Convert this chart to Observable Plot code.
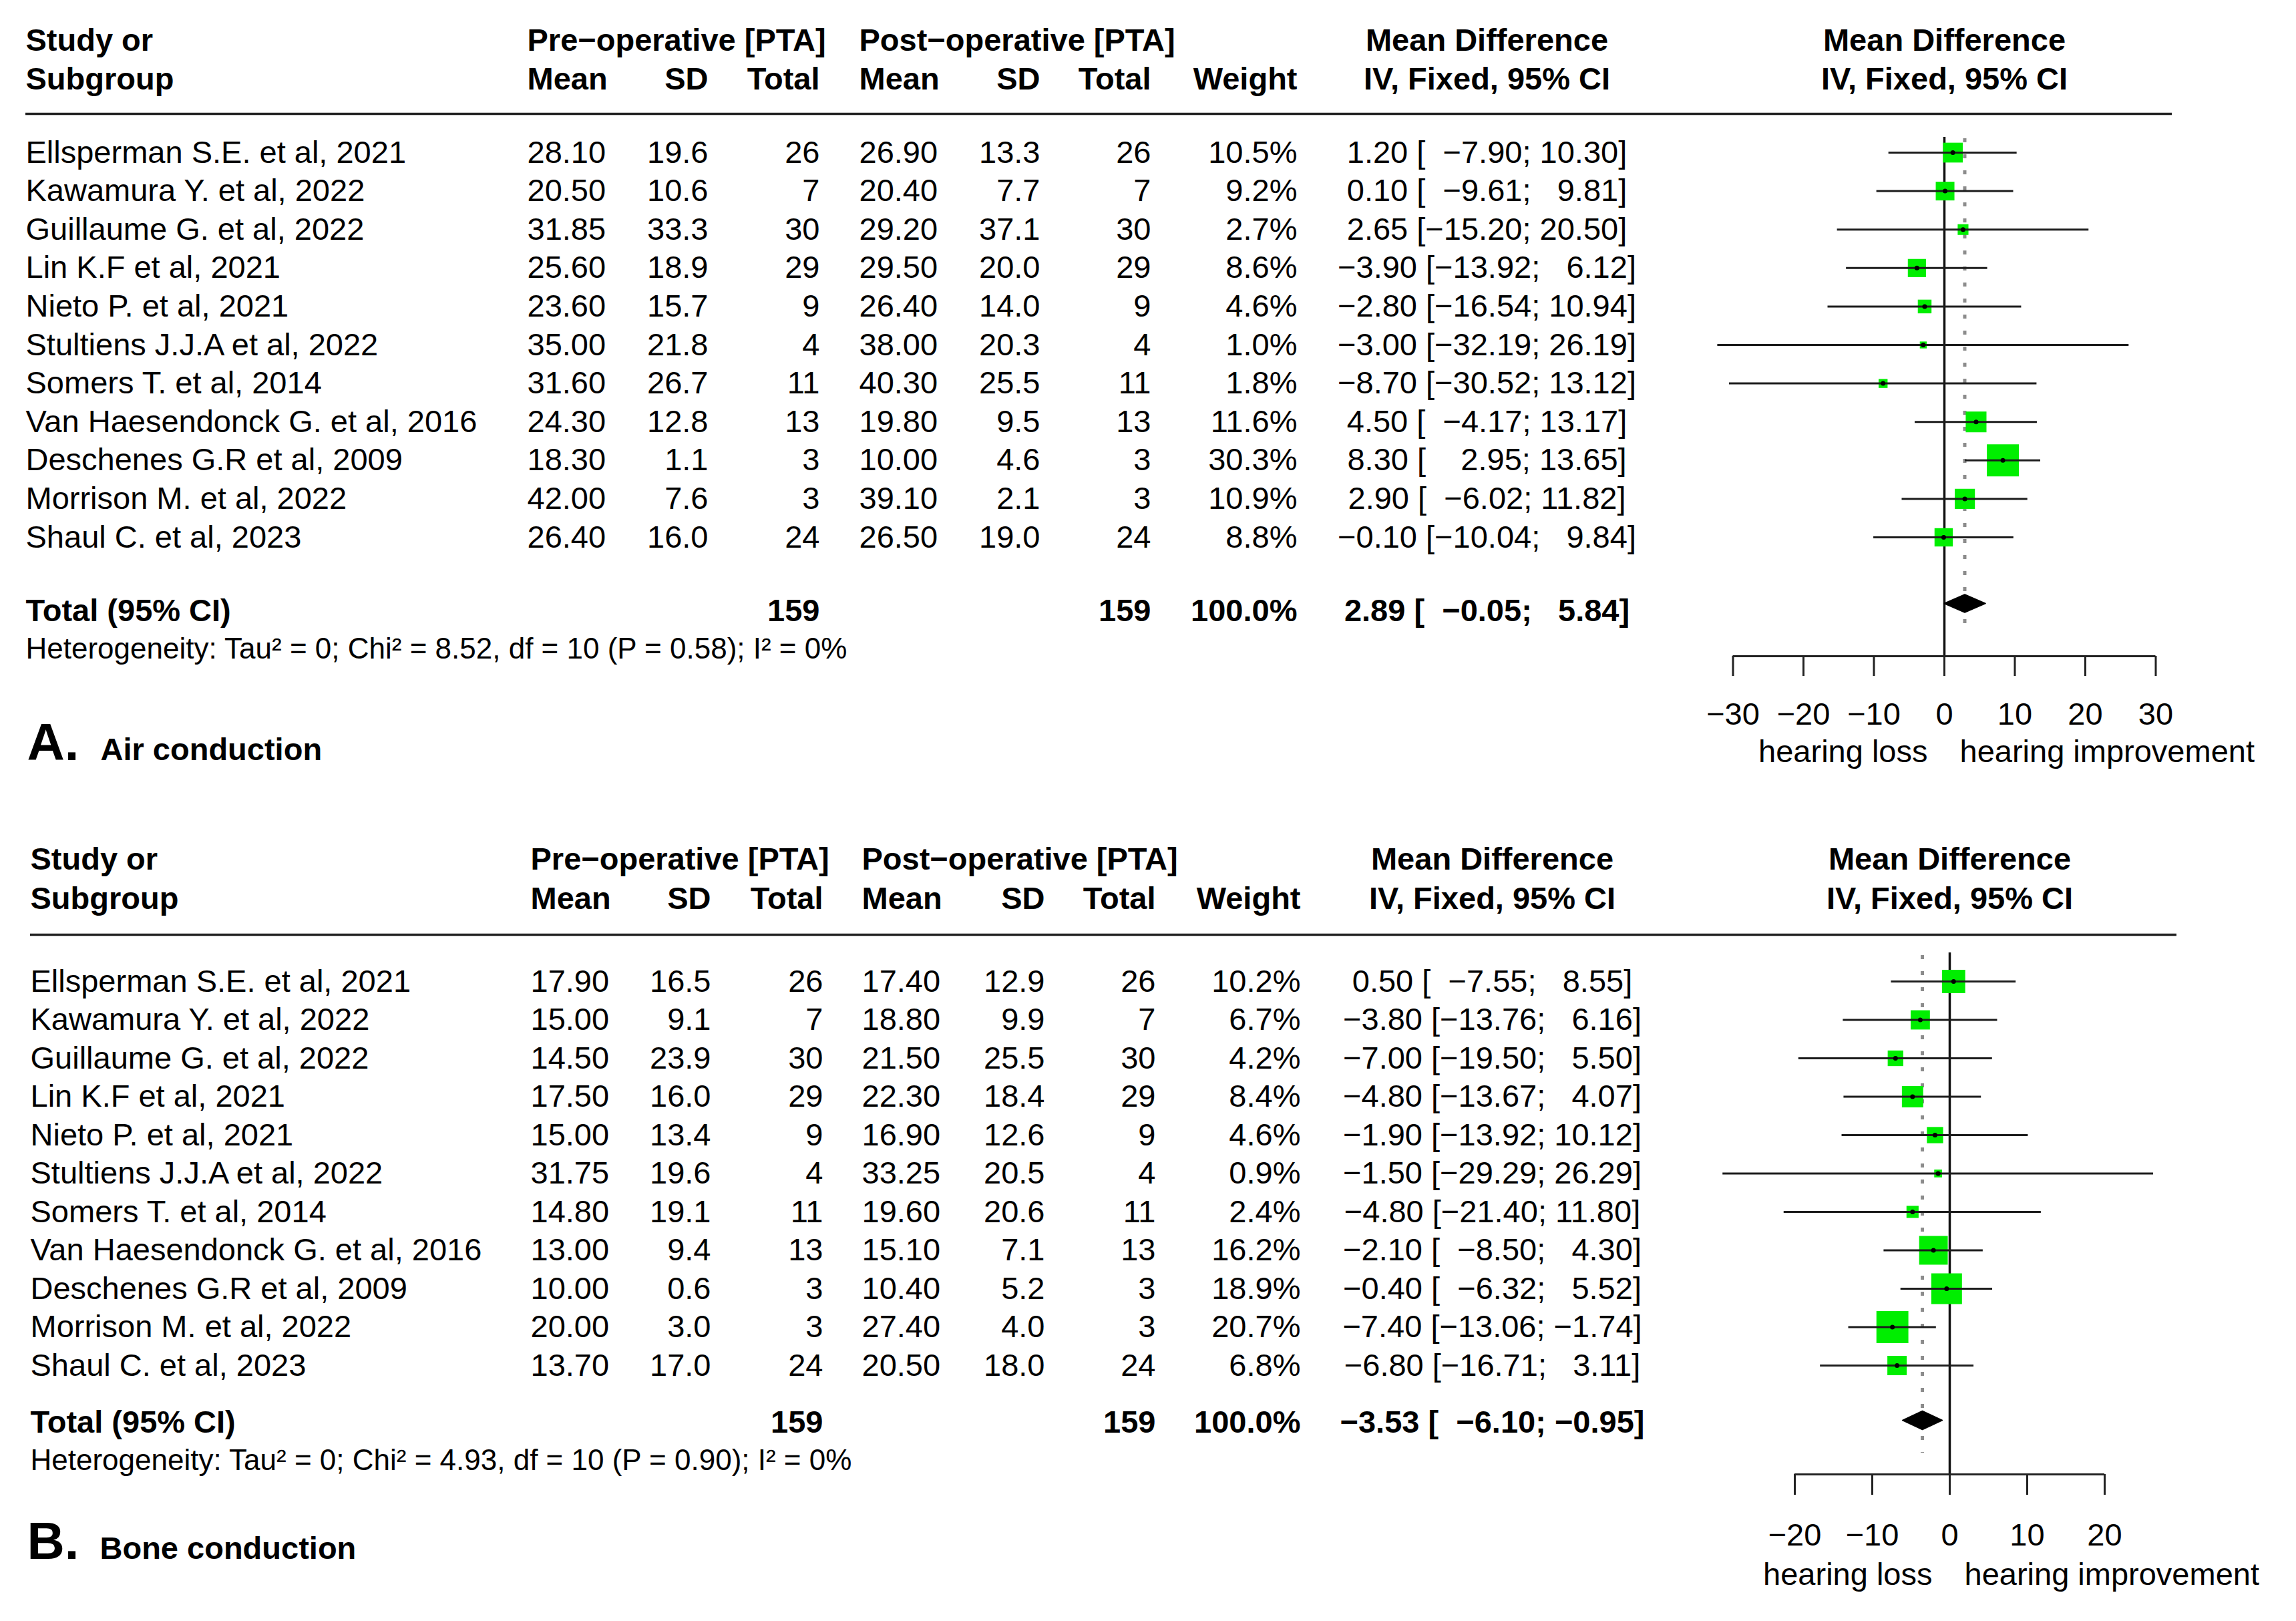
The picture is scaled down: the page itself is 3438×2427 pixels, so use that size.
<!DOCTYPE html>
<html>
<head>
<meta charset="utf-8">
<script src="https://cdn.jsdelivr.net/npm/d3@7"></script>
<script src="https://cdn.jsdelivr.net/npm/@observablehq/plot@0.6"></script>
<style>
  html, body { margin: 0; padding: 0; background: #fff; }
  #chart svg { display: block; }
</style>
</head>
<body>
<div id="chart"></div>
<script>
// ---------------- data ----------------
const studies = [
  "Ellsperman S.E. et al, 2021",
  "Kawamura Y. et al, 2022",
  "Guillaume G. et al, 2022",
  "Lin K.F et al, 2021",
  "Nieto P. et al, 2021",
  "Stultiens J.J.A et al, 2022",
  "Somers T. et al, 2014",
  "Van Haesendonck G. et al, 2016",
  "Deschenes G.R et al, 2009",
  "Morrison M. et al, 2022",
  "Shaul C. et al, 2023"
];
const nPatients = [26, 7, 30, 29, 9, 4, 11, 13, 3, 3, 24];
const totalPatients = 159;

// Panel A: air conduction
const preMeanA  = [28.10, 20.50, 31.85, 25.60, 23.60, 35.00, 31.60, 24.30, 18.30, 42.00, 26.40];
const preSdA    = [19.6, 10.6, 33.3, 18.9, 15.7, 21.8, 26.7, 12.8, 1.1, 7.6, 16.0];
const postMeanA = [26.90, 20.40, 29.20, 29.50, 26.40, 38.00, 40.30, 19.80, 10.00, 39.10, 26.50];
const postSdA   = [13.3, 7.7, 37.1, 20.0, 14.0, 20.3, 25.5, 9.5, 4.6, 2.1, 19.0];
const weightA   = [10.5, 9.2, 2.7, 8.6, 4.6, 1.0, 1.8, 11.6, 30.3, 10.9, 8.8];
const mdA       = [1.20, 0.10, 2.65, -3.90, -2.80, -3.00, -8.70, 4.50, 8.30, 2.90, -0.10];
const loA       = [-7.90, -9.61, -15.20, -13.92, -16.54, -32.19, -30.52, -4.17, 2.95, -6.02, -10.04];
const hiA       = [10.30, 9.81, 20.50, 6.12, 10.94, 26.19, 13.12, 13.17, 13.65, 11.82, 9.84];
const pooledA   = [2.89, -0.05, 5.84];          // estimate, lower, upper
const hetA      = [0, 8.52, 10, 0.58, 0];       // Tau2, Chi2, df, P, I2
const ticksA    = [-30, -20, -10, 0, 10, 20, 30];

// Panel B: bone conduction
const preMeanB  = [17.90, 15.00, 14.50, 17.50, 15.00, 31.75, 14.80, 13.00, 10.00, 20.00, 13.70];
const preSdB    = [16.5, 9.1, 23.9, 16.0, 13.4, 19.6, 19.1, 9.4, 0.6, 3.0, 17.0];
const postMeanB = [17.40, 18.80, 21.50, 22.30, 16.90, 33.25, 19.60, 15.10, 10.40, 27.40, 20.50];
const postSdB   = [12.9, 9.9, 25.5, 18.4, 12.6, 20.5, 20.6, 7.1, 5.2, 4.0, 18.0];
const weightB   = [10.2, 6.7, 4.2, 8.4, 4.6, 0.9, 2.4, 16.2, 18.9, 20.7, 6.8];
const mdB       = [0.50, -3.80, -7.00, -4.80, -1.90, -1.50, -4.80, -2.10, -0.40, -7.40, -6.80];
const loB       = [-7.55, -13.76, -19.50, -13.67, -13.92, -29.29, -21.40, -8.50, -6.32, -13.06, -16.71];
const hiB       = [8.55, 6.16, 5.50, 4.07, 10.12, 26.29, 11.80, 4.30, 5.52, -1.74, 3.11];
const pooledB   = [-3.53, -6.10, -0.95];
const hetB      = [0, 4.93, 10, 0.90, 0];
const ticksB    = [-20, -10, 0, 10, 20];

// ---------------- formatting ----------------
const FONT = "'Liberation Sans', Arial, Helvetica, sans-serif";
const MINUS = "\u2212";
const f1 = v => (v < 0 ? MINUS : "") + Math.abs(v).toFixed(1);
const f2 = v => (v < 0 ? MINUS : "") + Math.abs(v).toFixed(2);
const FIG = "\u2007";
const pad = (s, n) => FIG.repeat(Math.max(0, n - s.length)) + s;
const ciText = (m, lo, hi) => `${f2(m)} [${pad(f2(lo), 6)}; ${pad(f2(hi), 5)}]`;
const hetText = h => `Heterogeneity: Tau\u00B2 = ${h[0]}; Chi\u00B2 = ${h[1].toFixed(2)}, df = ${h[2]} (P = ${h[3].toFixed(2)}); I\u00B2 = ${h[4]}%`;
const tickFmt = v => (v < 0 ? MINUS : "") + Math.abs(v);

// ---------------- panel builder ----------------
function panel(d, L) {
  const rows = studies.map((study, i) => ({
    study, i,
    preMean: d.preMean[i], preSd: d.preSd[i], preN: nPatients[i],
    postMean: d.postMean[i], postSd: d.postSd[i], postN: nPatients[i],
    weight: d.weight[i], md: d.md[i], lo: d.lo[i], hi: d.hi[i]
  }));
  const Y = px => (px - L.row0) / L.step;   // layout pixel -> row units
  const C = L.col;
  const T = (data, px, opts) => Plot.text(data, {
    frameAnchor: "left", dx: px - L.marginLeft, fontSize: 47, fill: "#000", ...opts
  });
  const one = s => [s];
  const [est, plo, phi] = d.pooled;
  const yd = Y(L.diamond), hd = L.diamondHalf / L.step;
  const diamond = [
    {x: plo, y: yd}, {x: est, y: yd - hd}, {x: phi, y: yd}, {x: est, y: yd + hd}
  ];
  const bold = {fontWeight: "bold"};

  const marks = [
    // column headers
    T(one("Study or"), C.study, {y: Y(L.head1), text: s => s, textAnchor: "start", ...bold}),
    T(one("Subgroup"), C.study, {y: Y(L.head2), text: s => s, textAnchor: "start", ...bold}),
    T(one("Pre\u2212operative [PTA]"), C.preMean, {y: Y(L.head1), text: s => s, textAnchor: "start", ...bold}),
    T(one("Post\u2212operative [PTA]"), C.postMean, {y: Y(L.head1), text: s => s, textAnchor: "start", ...bold}),
    T(one("Mean Difference"), C.md, {y: Y(L.head1), text: s => s, textAnchor: "middle", ...bold}),
    T(one("Mean"), C.preMean, {y: Y(L.head2), text: s => s, textAnchor: "start", ...bold}),
    T(one("SD"), C.preSd, {y: Y(L.head2), text: s => s, textAnchor: "end", ...bold}),
    T(one("Total"), C.preN, {y: Y(L.head2), text: s => s, textAnchor: "end", ...bold}),
    T(one("Mean"), C.postMean, {y: Y(L.head2), text: s => s, textAnchor: "start", ...bold}),
    T(one("SD"), C.postSd, {y: Y(L.head2), text: s => s, textAnchor: "end", ...bold}),
    T(one("Total"), C.postN, {y: Y(L.head2), text: s => s, textAnchor: "end", ...bold}),
    T(one("Weight"), C.weight, {y: Y(L.head2), text: s => s, textAnchor: "end", ...bold}),
    T(one("IV, Fixed, 95% CI"), C.md, {y: Y(L.head2), text: s => s, textAnchor: "middle", ...bold}),
    Plot.text(one("Mean Difference"), {x: 0, y: Y(L.head1), text: s => s, fontSize: 47, textAnchor: "middle", ...bold}),
    Plot.text(one("IV, Fixed, 95% CI"), {x: 0, y: Y(L.head2), text: s => s, fontSize: 47, textAnchor: "middle", ...bold}),
    Plot.ruleY([Y(L.rule)], {strokeWidth: 3.5, stroke: "#222"}),

    // study rows
    T(rows, C.study, {y: "i", text: "study", textAnchor: "start"}),
    T(rows, C.preMean, {y: "i", text: r => f2(r.preMean), textAnchor: "start"}),
    T(rows, C.preSd, {y: "i", text: r => f1(r.preSd), textAnchor: "end"}),
    T(rows, C.preN, {y: "i", text: r => String(r.preN), textAnchor: "end"}),
    T(rows, C.postMean, {y: "i", text: r => f2(r.postMean), textAnchor: "start"}),
    T(rows, C.postSd, {y: "i", text: r => f1(r.postSd), textAnchor: "end"}),
    T(rows, C.postN, {y: "i", text: r => String(r.postN), textAnchor: "end"}),
    T(rows, C.weight, {y: "i", text: r => r.weight.toFixed(1) + "%", textAnchor: "end"}),
    T(rows, C.md, {y: "i", text: r => ciText(r.md, r.lo, r.hi), textAnchor: "middle"}),

    // total row
    T(one("Total (95% CI)"), C.study, {y: Y(L.total), text: s => s, textAnchor: "start", ...bold}),
    T(one(totalPatients), C.preN, {y: Y(L.total), text: s => String(s), textAnchor: "end", ...bold}),
    T(one(totalPatients), C.postN, {y: Y(L.total), text: s => String(s), textAnchor: "end", ...bold}),
    T(one(100), C.weight, {y: Y(L.total), text: s => s.toFixed(1) + "%", textAnchor: "end", ...bold}),
    T(one(d.pooled), C.md, {y: Y(L.total), text: p => ciText(p[0], p[1], p[2]), textAnchor: "middle", ...bold}),
    T(one(d.het), C.study, {y: Y(L.het), text: hetText, textAnchor: "start", fontSize: 44}),

    // forest: reference lines
    Plot.ruleX([0], {y1: Y(L.zeroTop), y2: Y(L.axis), strokeWidth: 3.5, stroke: "#111"}),
    Plot.ruleX([est], {y1: Y(L.dotTop), y2: Y(L.dotBottom), stroke: "#8c8c8c", strokeWidth: 5, strokeDasharray: "6,18"}),
    // squares (size grows with weight)
    Plot.dot(rows, {x: "md", y: "i", r: "weight", symbol: "square", fill: "#00ee00"}),
    // confidence intervals
    Plot.ruleY(rows, {y: "i", x1: "lo", x2: "hi", stroke: "#1c1c1c", strokeWidth: 3}),
    Plot.dot(rows, {x: "md", y: "i", r: 3.5, fill: "#000"}),
    // pooled diamond
    Plot.line(diamond, {x: "x", y: "y", curve: "linear-closed", fill: "#000", stroke: "#000", strokeWidth: 1.5}),

    // axis
    Plot.ruleY([Y(L.axis)], {x1: d.ticks[0], x2: d.ticks[d.ticks.length - 1], strokeWidth: 3, stroke: "#222"}),
    Plot.axisX(d.ticks, {
      anchor: "bottom", tickSize: L.tickSize,
      tickPadding: L.tickLabel - 0.358 * 47 - L.axis - L.tickSize,
      tickFormat: tickFmt, fontSize: 47, strokeWidth: 3, stroke: "#222", fill: "#000", label: null
    }),
    Plot.text(one("hearing loss"), {x: 0, y: Y(L.hearing), text: s => s, textAnchor: "end", dx: L.lossDx, fontSize: 47, fill: "#000"}),
    Plot.text(one("hearing improvement"), {x: 0, y: Y(L.hearing), text: s => s, textAnchor: "start", dx: L.gainDx, fontSize: 47, fill: "#000"}),

    // panel title
    T(one(d.letter), L.titleX, {y: Y(L.title), text: s => s, textAnchor: "start", lineAnchor: "bottom", fontSize: 78, ...bold}),
    T(one(d.title), L.titleTextX, {y: Y(L.title), text: s => s, textAnchor: "start", lineAnchor: "bottom", fontSize: 47, ...bold})
  ];

  return Plot.plot({
    width: 3438,
    height: L.height,
    marginTop: 0,
    marginLeft: L.marginLeft,
    marginRight: 3438 - L.ruleRight,
    marginBottom: L.height - L.axis,
    style: {fontFamily: FONT, fontSize: "47px", color: "#000", background: "#fff"},
    x: {domain: L.xDomain, range: L.xRange, axis: null},
    y: {domain: [0, 10], range: [L.row0, L.row0 + 10 * L.step], axis: null},
    r: {type: "pow", exponent: 0.45, domain: [0, d3.max(d.weight)], range: [0, 27]},
    marks
  });
}

const layoutA = {
  height: 1200, row0: 228, step: 57.6,
  head1: 60, head2: 118, rule: 170,
  total: 914, diamond: 903, diamondHalf: 13.5, het: 971,
  axis: 982, tickSize: 30, tickLabel: 1068, hearing: 1125, title: 1137,
  zeroTop: 205, dotTop: 207, dotBottom: 945,
  marginLeft: 38, ruleRight: 3252,
  xDomain: [-30, 30], xRange: [2594.5, 3227.5],
  col: {study: 38, preMean: 789, preSd: 1060, preN: 1227, postMean: 1286, postSd: 1557, postN: 1723, weight: 1942, md: 2226},
  titleX: 40, titleTextX: 150, lossDx: -25, gainDx: 23
};
const layoutB = {
  height: 1227, row0: 269, step: 57.5,
  head1: 86, head2: 145, rule: 199,
  total: 929, diamond: 926, diamondHalf: 14, het: 986,
  axis: 1007, tickSize: 31, tickLabel: 1097, hearing: 1157, title: 1133,
  zeroTop: 226, dotTop: 230, dotBottom: 975,
  marginLeft: 45, ruleRight: 3259,
  xDomain: [-20, 20], xRange: [2687, 3151],
  col: {study: 45, preMean: 794, preSd: 1064, preN: 1232, postMean: 1290, postSd: 1564, postN: 1730, weight: 1947, md: 2234},
  titleX: 40, titleTextX: 149, lossDx: -26, gainDx: 22
};

const chart = document.getElementById("chart");
chart.append(panel({
  preMean: preMeanA, preSd: preSdA, postMean: postMeanA, postSd: postSdA,
  weight: weightA, md: mdA, lo: loA, hi: hiA, pooled: pooledA, het: hetA,
  ticks: ticksA, letter: "A.", title: "Air conduction"
}, layoutA));
chart.append(panel({
  preMean: preMeanB, preSd: preSdB, postMean: postMeanB, postSd: postSdB,
  weight: weightB, md: mdB, lo: loB, hi: hiB, pooled: pooledB, het: hetB,
  ticks: ticksB, letter: "B.", title: "Bone conduction"
}, layoutB));
</script>
</body>
</html>
